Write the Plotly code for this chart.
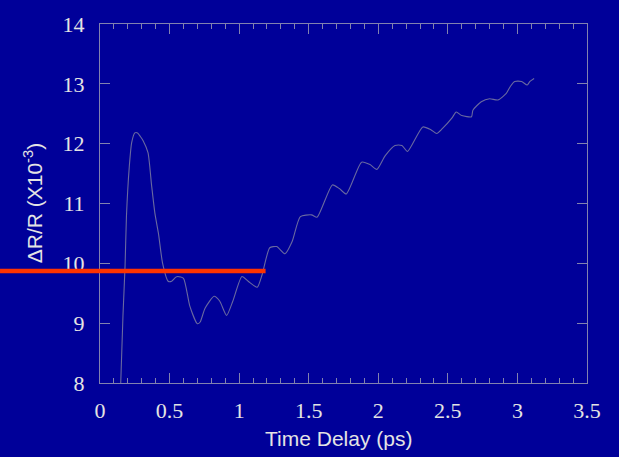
import plotly.graph_objects as go

# Time delay (ps) and reflectivity change ΔR/R (x10^-3)
time_ps = [0.149, 0.165, 0.18, 0.19, 0.21, 0.228, 0.25, 0.27, 0.29, 0.31, 0.345, 0.37,
           0.395, 0.42, 0.45, 0.49, 0.515, 0.545, 0.56, 0.60, 0.645, 0.70, 0.72, 0.755,
           0.82, 0.86, 0.91, 0.955, 1.02, 1.065, 1.13, 1.165, 1.22, 1.27, 1.33, 1.38,
           1.44, 1.52, 1.56, 1.67, 1.72, 1.77, 1.88, 1.94, 1.99, 2.05, 2.12, 2.17,
           2.21, 2.32, 2.38, 2.42, 2.46, 2.53, 2.56, 2.60, 2.67, 2.68, 2.74, 2.80,
           2.86, 2.92, 2.95, 2.98, 3.03, 3.07, 3.09, 3.12]
dr_over_r = [8.0, 9.12, 9.95, 10.78, 11.6, 12.02, 12.18, 12.18, 12.12, 12.05, 11.85, 11.32,
             10.83, 10.5, 10.0, 9.70, 9.70, 9.77, 9.78, 9.75, 9.29, 8.99, 9.02, 9.25,
             9.45, 9.37, 9.13, 9.37, 9.78, 9.70, 9.6, 9.81, 10.26, 10.28, 10.16, 10.36,
             10.78, 10.81, 10.77, 11.31, 11.25, 11.16, 11.69, 11.65, 11.57, 11.80, 11.97, 11.97,
             11.87, 12.28, 12.23, 12.17, 12.25, 12.43, 12.53, 12.47, 12.45, 12.56, 12.70, 12.75,
             12.73, 12.84, 12.96, 13.04, 13.04, 12.98, 13.04, 13.09]

# Reference level marked across the left part of the chart
ref_level = 9.87

x_tickvals = [0, 0.5, 1, 1.5, 2, 2.5, 3, 3.5]
x_ticktext = ["0", "0.5", "1", "1.5", "2", "2.5", "3", "3.5"]
y_tickvals = [8, 9, 10, 11, 12, 13, 14]
y_ticktext = ["8", "9", "10", "11", "12", "13", "14"]

BG = "rgb(0,0,153)"
AXIS = "rgb(130,130,175)"
TEXT = "rgb(228,228,228)"
SERIF = "Liberation Serif, DejaVu Serif, serif"
SANS = "Liberation Sans, Arial, sans-serif"

fig = go.Figure()
fig.add_trace(go.Scatter(
    x=time_ps, y=dr_over_r, mode="lines",
    line=dict(color="rgb(105,105,160)", width=1.1, shape="spline", smoothing=0.6),
    showlegend=False, hoverinfo="skip",
))

fig.add_shape(type="line", xref="paper", yref="y",
              x0=-0.2053, x1=0.340, y0=ref_level, y1=ref_level,
              line=dict(color="rgb(255,51,0)", width=4.5))

fig.update_xaxes(
    range=[0, 3.5], tickvals=x_tickvals, ticktext=x_ticktext,
    ticks="inside", ticklen=10, tickwidth=1, tickcolor=AXIS,
    minor=dict(dtick=0.1, ticks="inside", ticklen=5, tickwidth=1, tickcolor=AXIS),
    showline=True, linecolor=AXIS, linewidth=1, mirror="ticks",
    showgrid=False, zeroline=False, ticklabelstandoff=8,
    tickfont=dict(family=SERIF, size=22, color=TEXT),
)
fig.update_yaxes(
    range=[8, 14], tickvals=y_tickvals, ticktext=y_ticktext,
    ticks="inside", ticklen=10, tickwidth=1, tickcolor=AXIS,
    showline=True, linecolor=AXIS, linewidth=1, mirror="ticks",
    showgrid=False, zeroline=False, ticklabelstandoff=10,
    tickfont=dict(family=SERIF, size=22, color=TEXT),
)

fig.add_annotation(text="Time Delay (ps)", xref="paper", yref="paper",
                   x=0.49, y=-0.155, xanchor="center", yanchor="middle",
                   showarrow=False,
                   font=dict(family=SANS, size=21, color=TEXT))
fig.add_annotation(text="ΔR/R (X10<sup>-3</sup>)", xref="paper", yref="paper",
                   x=-0.138, y=0.5, xanchor="center", yanchor="middle",
                   textangle=-90, showarrow=False,
                   font=dict(family=SANS, size=21, color=TEXT))

fig.update_layout(
    width=619, height=457,
    margin=dict(l=100, r=32, t=20, b=74),
    paper_bgcolor=BG, plot_bgcolor=BG,
)

fig.write_html("out.html")
